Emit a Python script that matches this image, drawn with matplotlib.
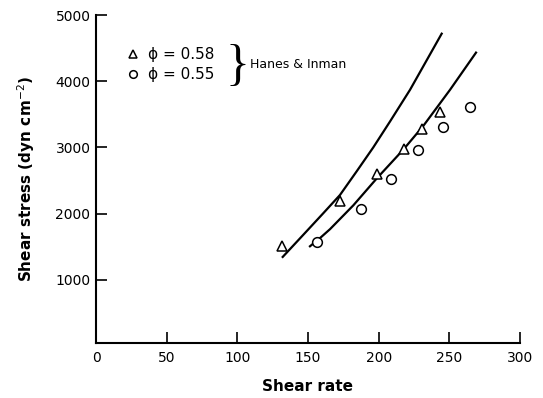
import numpy as np
import matplotlib.pyplot as plt

# measured points (Hanes & Inman)
tri_rate = [131.8, 172.6, 198.6, 218.1, 230.9, 243.4]
tri_stress = [1506, 2184, 2601, 2977, 3279, 3539]
circ_rate = [156.2, 187.3, 208.7, 228.0, 245.7, 264.6]
circ_stress = [1571, 2063, 2520, 2967, 3313, 3614]

# theory curves
up_rate = [132.1, 146.7, 160.8, 172.6, 184.5, 196.2, 208.0, 222.2, 244.6]
up_stress = [1345, 1680, 2005, 2280, 2640, 3000, 3390, 3870, 4718]
low_rate = [151.4, 158.5, 165.6, 182.1, 198.6, 217.4, 231.6, 250.5, 268.9]
low_stress = [1506, 1630, 1765, 2125, 2530, 2965, 3325, 3870, 4432]

xticks = [0, 50, 100, 150, 200, 250, 300]
yticks = [1000, 2000, 3000, 4000, 5000]

fig = plt.figure(figsize=(5.43, 3.98), dpi=100)
ax = fig.add_axes([0.1768, 0.1382, 0.7808, 0.8241])

ax.plot(up_rate, up_stress, 'k-', lw=1.6)
ax.plot(low_rate, low_stress, 'k-', lw=1.6)
ax.plot(tri_rate, tri_stress, '^', ms=7.5, mfc='white', mec='k', mew=1.1, ls='none')
ax.plot(circ_rate, circ_stress, 'o', ms=7, mfc='white', mec='k', mew=1.1, ls='none')

# legend block drawn by hand like the original
ax.plot([26.4], [4408], '^', ms=6, mfc='white', mec='k', mew=1.1)
ax.plot([26.4], [4107], 'o', ms=5.5, mfc='white', mec='k', mew=1.1)
ax.text(37, 4408, '\u03d5 = 0.58', fontsize=11, va='center', ha='left')
ax.text(37, 4107, '\u03d5 = 0.55', fontsize=11, va='center', ha='left')
ax.text(91.5, 4215, '}', fontsize=36, va='center', ha='left', family='Liberation Serif')
ax.text(109, 4257, 'Hanes & Inman', fontsize=9, va='center', ha='left')

ax.set_xlim(0, 300)
ax.set_ylim(45, 5000)
ax.set_xticks(xticks)
ax.set_yticks(yticks)
ax.spines['top'].set_visible(False)
ax.spines['right'].set_visible(False)
for s in ['left', 'bottom']:
    ax.spines[s].set_linewidth(1.5)
ax.tick_params(direction='in', length=8, width=1.2, labelsize=10)
ax.tick_params(axis='x', pad=6)
ax.tick_params(axis='y', pad=4)
ax.set_xlabel('Shear rate', fontsize=11, fontweight='bold', labelpad=10)
ax.set_ylabel('Shear stress (dyn cm$^{-2}$)', fontsize=11, fontweight='bold', labelpad=13)

fig.savefig('out.png', dpi=100)
